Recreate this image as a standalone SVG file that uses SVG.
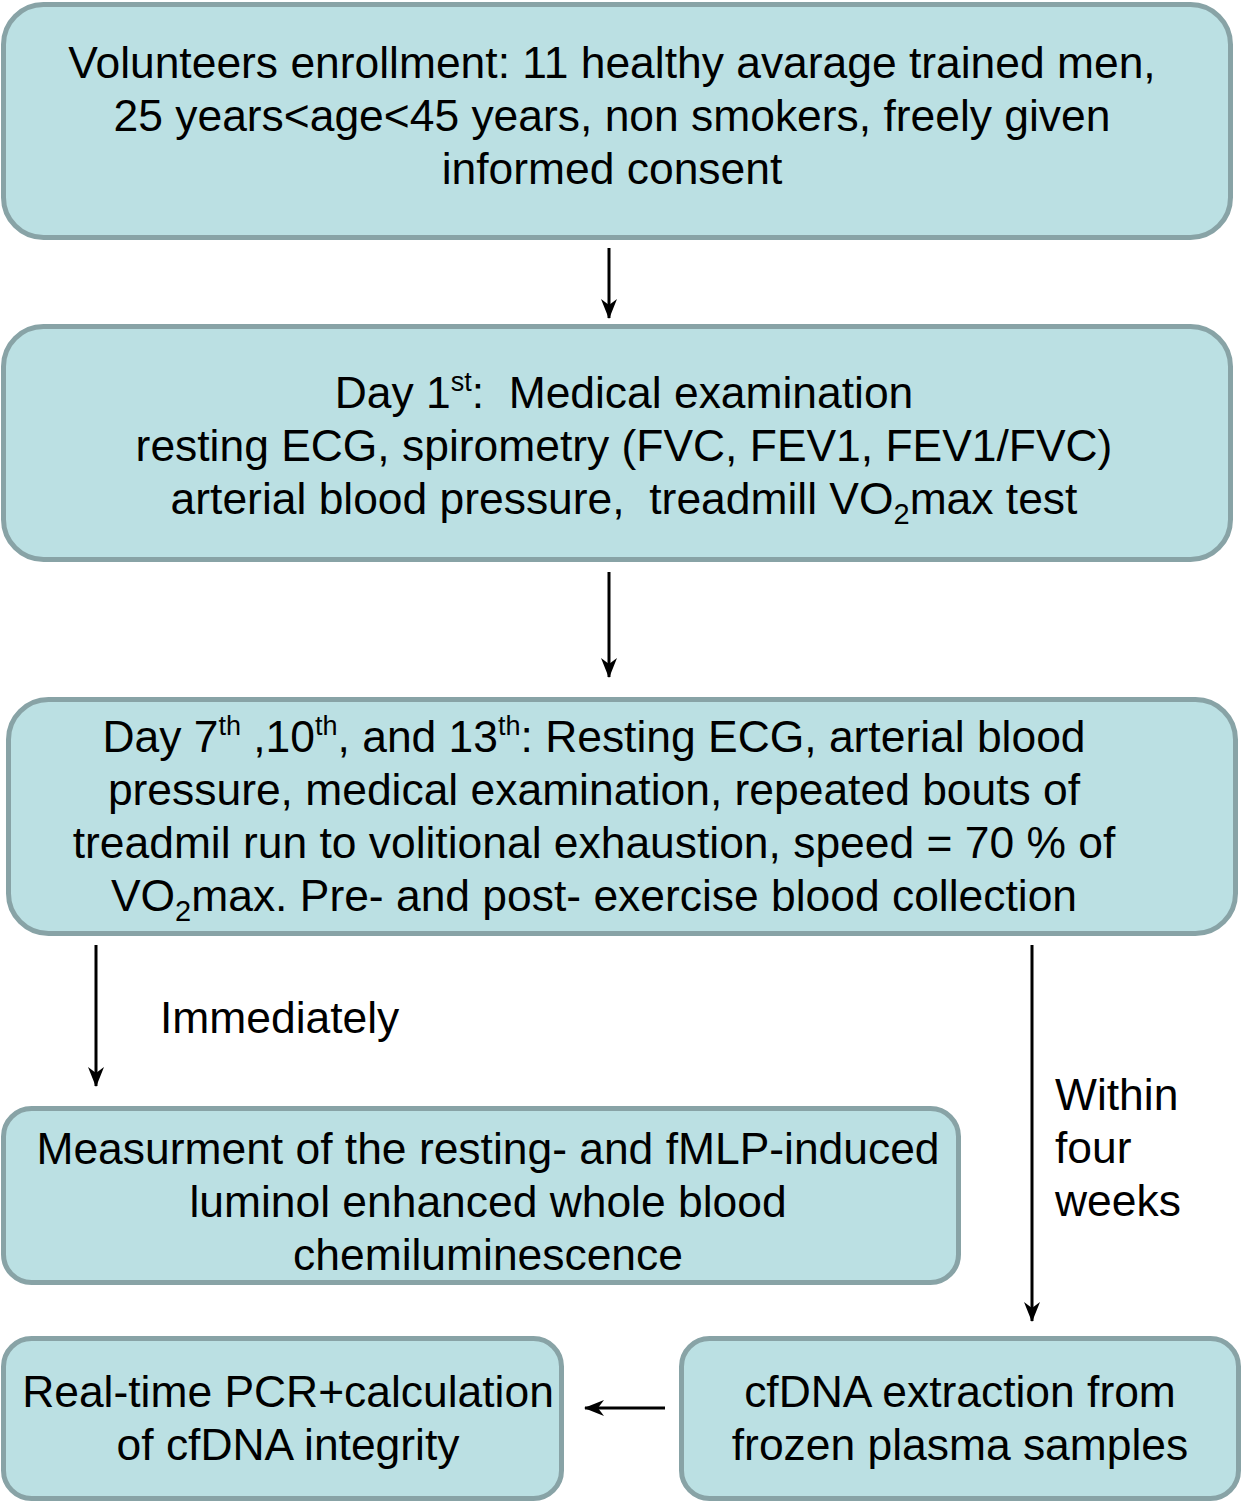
<svg xmlns="http://www.w3.org/2000/svg" width="1243" height="1504" viewBox="0 0 1243 1504">
<style>
.box{fill:#bbe0e3;stroke:#88a3a6;stroke-width:5}
text{font-family:"Liberation Sans",Arial,sans-serif;font-size:44.4px;fill:#000}
.c{text-anchor:middle}
.sup{font-size:27px}
.sub{font-size:29px}
.ln{stroke:#000;stroke-width:3;fill:none;marker-end:url(#ah)}
</style>
<defs>
<marker id="ah" viewBox="0 0 20 16" refX="19" refY="8" markerWidth="20" markerHeight="16" orient="auto" markerUnits="userSpaceOnUse">
<path d="M0,0 L20,8 L0,16 L6,8 Z" fill="#000"/>
</marker>
</defs>
<rect width="1243" height="1504" fill="#fff"/>
<g id="n1">
<rect class="box" x="3.5" y="4.5" width="1227" height="233" rx="40"/>
<text class="c" x="612" y="78">Volunteers enrollment: 11 healthy avarage trained men,</text>
<text class="c" x="612" y="131">25 years&lt;age&lt;45 years, non smokers, freely given</text>
<text class="c" x="612" y="184">informed consent</text>
</g>
<g id="n2">
<rect class="box" x="3.5" y="326.5" width="1227" height="233" rx="40"/>
<text class="c" x="624" y="408" xml:space="preserve">Day 1<tspan class="sup" dy="-17">st</tspan><tspan dy="17">:  Medical examination</tspan></text>
<text class="c" x="624" y="461">resting ECG, spirometry (FVC, FEV1, FEV1/FVC)</text>
<text class="c" x="624" y="514" xml:space="preserve">arterial blood pressure,  treadmill VO<tspan class="sub" dy="10">2</tspan><tspan dy="-10">max test</tspan></text>
</g>
<g id="n3">
<rect class="box" x="8.5" y="699.5" width="1227" height="234" rx="40"/>
<text class="c" x="594" y="752" xml:space="preserve">Day 7<tspan class="sup" dy="-17">th</tspan><tspan dy="17"> ,10</tspan><tspan class="sup" dy="-17">th</tspan><tspan dy="17">, and 13</tspan><tspan class="sup" dy="-17">th</tspan><tspan dy="17">: Resting ECG, arterial blood</tspan></text>
<text class="c" x="594" y="805">pressure, medical examination, repeated bouts of</text>
<text class="c" x="594" y="858">treadmil run to volitional exhaustion, speed = 70 % of</text>
<text class="c" x="594" y="911">VO<tspan class="sub" dy="10">2</tspan><tspan dy="-10">max. Pre- and post- exercise blood collection</tspan></text>
</g>
<g id="n4">
<rect class="box" x="3.5" y="1108.5" width="955" height="174" rx="28"/>
<text class="c" x="488" y="1164">Measurment of the resting- and fMLP-induced</text>
<text class="c" x="488" y="1217">luminol enhanced whole blood</text>
<text class="c" x="488" y="1270">chemiluminescence</text>
</g>
<g id="n5">
<rect class="box" x="3.5" y="1338.5" width="558" height="160" rx="28"/>
<text class="c" x="288" y="1407">Real-time PCR+calculation</text>
<text class="c" x="288" y="1460">of cfDNA integrity</text>
</g>
<g id="n6">
<rect class="box" x="681.5" y="1338.5" width="557" height="160" rx="28"/>
<text class="c" x="960" y="1407">cfDNA extraction from</text>
<text class="c" x="960" y="1460">frozen plasma samples</text>
</g>
<g id="connectors">
<line class="ln" x1="609" y1="248" x2="609" y2="318"/>
<line class="ln" x1="609" y1="572" x2="609" y2="677"/>
<line class="ln" x1="96" y1="945" x2="96" y2="1086"/>
<line class="ln" x1="1032" y1="945" x2="1032" y2="1321"/>
<line class="ln" x1="665" y1="1408" x2="585" y2="1408"/>
<text x="160" y="1033">Immediately</text>
<text x="1055" y="1110">Within</text>
<text x="1055" y="1163">four</text>
<text x="1055" y="1216">weeks</text>
</g>
</svg>
